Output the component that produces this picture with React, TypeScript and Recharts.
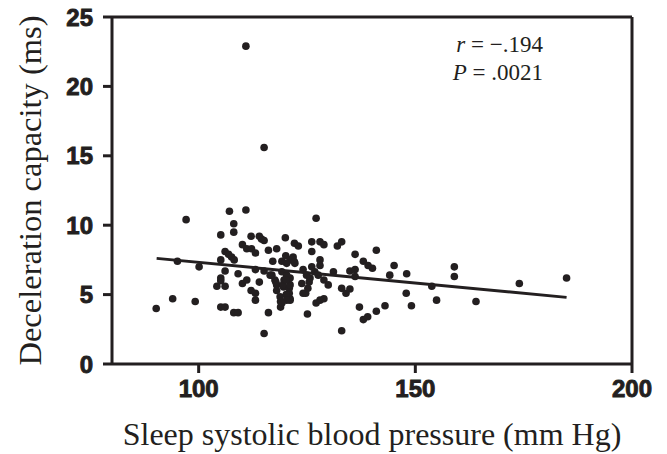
import React from 'react';
import {
  ScatterChart,
  Scatter,
  XAxis,
  YAxis,
  ReferenceLine,
} from 'recharts';

// sleep systolic BP (mm Hg)
const sbp = [
  90.2, 94.0, 95.1, 97.1, 99.2, 100.1, 104.2, 105.1, 105.1, 105.1,
  105.1, 105.1, 106.1, 106.1, 106.1, 106.1, 106.9, 107.1, 107.6, 108.1,
  108.1, 108.2, 108.1, 109.1, 109.1, 110.1, 110.1, 110.9, 110.9, 111.1,
  111.1, 112.1, 112.2, 112.1, 113.1, 113.1, 113.1, 113.1, 114.0, 114.5,
  115.1, 114.0, 115.1, 115.1, 115.1, 116.1, 116.1, 116.9, 117.1, 117.6,
  118.0, 118.0, 118.0, 118.8, 118.9, 118.9, 119.2, 119.2, 119.7, 119.6,
  120.0, 120.1, 119.5, 120.7, 120.9, 120.9, 121.1, 121.1, 121.1, 121.1,
  121.1, 121.8, 122.2, 120.3, 120.2, 120.2, 120.3, 122.1, 123.0, 123.8,
  124.1, 124.1, 124.7, 125.2, 125.5, 124.9, 125.7, 125.1, 126.1, 126.1,
  126.1, 126.8, 127.6, 127.1, 127.1, 128.0, 128.0, 128.0, 128.0, 128.9,
  128.9, 128.9, 129.9, 131.1, 132.0, 133.0, 133.0, 133.0, 134.0, 134.9,
  134.9, 136.1, 136.1, 136.1, 137.1, 138.0, 138.0, 139.0, 139.1, 140.1,
  141.0, 141.0, 143.0, 144.1, 145.1, 147.9, 148.0, 149.1, 153.8, 154.9,
  159.0, 159.0, 164.0, 174.0, 184.9, 117.8, 120.3, 122.1, 119.2, 116.5,
];

// deceleration capacity (ms)
const dc = [
  4.0, 4.7, 7.4, 10.4, 4.5, 7.0, 5.6, 9.3, 7.5, 6.2,
  6.0, 4.1, 8.1, 6.7, 5.6, 4.1, 7.9, 11.0, 7.7, 10.1,
  9.5, 7.5, 3.7, 3.7, 6.5, 8.6, 5.8, 11.1, 22.9, 8.3,
  6.05, 9.2, 8.3, 5.3, 8.0, 6.8, 5.1, 4.6, 9.2, 9.0,
  8.9, 5.9, 6.7, 15.6, 2.2, 8.2, 3.7, 6.4, 7.4, 6.05,
  8.3, 5.7, 5.3, 4.85, 4.5, 4.1, 7.4, 6.65, 6.05, 5.55,
  9.1, 7.8, 5.7, 6.1, 5.45, 5.1, 4.7, 7.5, 6.2, 5.7,
  4.6, 7.7, 7.25, 6.4, 6.05, 5.0, 4.6, 8.7, 8.5, 5.8,
  6.8, 5.1, 5.1, 5.45, 5.9, 6.4, 6.2, 3.6, 8.8, 8.1,
  7.0, 6.65, 6.4, 10.5, 4.4, 8.8, 7.5, 7.1, 4.6, 8.6,
  6.05, 4.7, 5.7, 6.65, 8.5, 8.8, 5.45, 2.4, 5.1, 5.4,
  6.7, 6.8, 6.3, 7.9, 4.1, 7.4, 3.2, 3.4, 7.1, 6.9,
  8.2, 3.8, 4.2, 6.4, 7.1, 5.1, 6.5, 4.2, 5.6, 4.6,
  7.0, 6.3, 4.5, 5.8, 6.2, 5.9, 7.25, 7.37, 4.4, 6.4,
];

// regression line end points
const fitX = [90.3, 184.9];
const fitY = [7.61, 4.8];

const xTicks = [100, 150, 200];
const yTicks = [0, 5, 10, 15, 20, 25];

const ink = '#231f20';
const sans = '"Liberation Sans", Arial, Helvetica, sans-serif';
const serif = '"Liberation Serif", "Times New Roman", serif';

const points = sbp.map((x, i) => ({ x, y: dc[i] }));
const fit = fitX.map((x, i) => ({ x, y: fitY[i] }));

// heavy tick labels: bold face plus a thin outline to thicken strokes
function TickLabel({ x, y, anchor, children }: any) {
  return (
    <text
      x={x}
      y={y}
      textAnchor={anchor}
      fill={ink}
      stroke={ink}
      strokeWidth={0.9}
      fontSize={24}
      fontWeight="bold"
      fontFamily={sans}
    >
      {children}
    </text>
  );
}

function XTick({ x, y, payload }: any) {
  return <TickLabel x={x} y={y + 18} anchor="middle">{payload.value}</TickLabel>;
}

function YTick({ x, y, payload }: any) {
  return <TickLabel x={x} y={y + 8.5} anchor="end">{payload.value}</TickLabel>;
}

export default function App() {
  return (
    <div style={{ position: 'absolute', left: 0, top: 0, width: 667, height: 454 }}>
      <ScatterChart width={667} height={454} margin={{ top: 17, right: 35, left: 0, bottom: 0 }}>
        <XAxis
          type="number"
          dataKey="x"
          domain={[80, 200]}
          ticks={xTicks}
          allowDataOverflow
          height={90}
          tickSize={9}
          tickMargin={6}
          tick={<XTick />}
          axisLine={{ stroke: ink, strokeWidth: 3 }}
          tickLine={{ stroke: ink, strokeWidth: 3 }}
          label={{
            value: 'Sleep systolic blood pressure (mm Hg)',
            position: 'insideBottom',
            offset: 9,
            style: { fontSize: 32, fill: ink, fontFamily: serif },
          }}
        />
        <YAxis
          type="number"
          dataKey="y"
          domain={[0, 25]}
          ticks={yTicks}
          allowDataOverflow
          width={112}
          tickSize={9}
          tickMargin={10}
          tick={<YTick />}
          axisLine={{ stroke: ink, strokeWidth: 3 }}
          tickLine={{ stroke: ink, strokeWidth: 3 }}
          label={{
            value: 'Deceleration capacity (ms)',
            angle: -90,
            position: 'insideLeft',
            offset: 29,
            style: { fontSize: 32.5, fill: ink, fontFamily: serif, textAnchor: 'middle' },
          }}
        />
        <ReferenceLine y={25} stroke={ink} strokeWidth={3} />
        <ReferenceLine x={200} stroke={ink} strokeWidth={3} />
        <Scatter
          data={points}
          isAnimationActive={false}
          shape={(p: any) => <circle cx={p.cx} cy={p.cy} r={3.8} fill={ink} />}
        />
        <Scatter
          data={fit}
          isAnimationActive={false}
          line={{ stroke: ink, strokeWidth: 3 }}
          shape={() => <g />}
        />
      </ScatterChart>
      <div
        style={{
          position: 'absolute',
          top: 31,
          right: 667 - 543,
          textAlign: 'right',
          fontFamily: serif,
          fontSize: 23,
          lineHeight: '28px',
          color: ink,
        }}
      >
        <div><i>r</i> = −.194</div>
        <div><i>P</i> = .0021</div>
      </div>
    </div>
  );
}
